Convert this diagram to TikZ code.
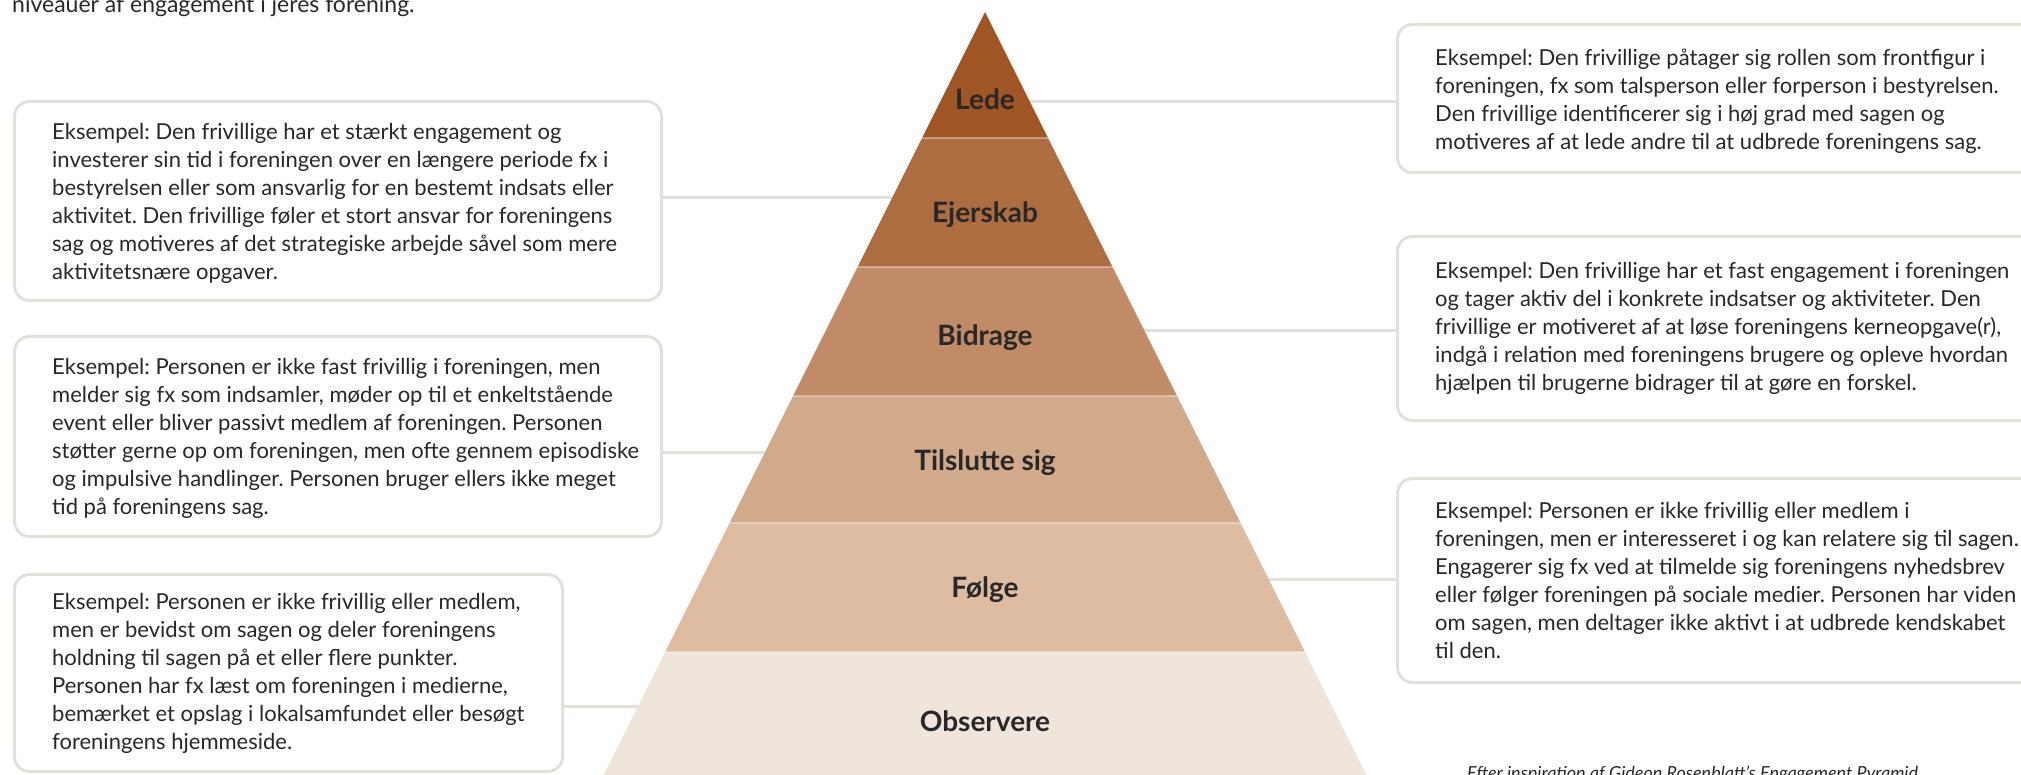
\documentclass[tikz,border=0pt]{standalone}
\usepackage{fontspec}
\setmainfont{Lato}
\usetikzlibrary{backgrounds}

\definecolor{ledecol}{RGB}{160,85,36}
\definecolor{ejerskabcol}{RGB}{174,109,64}
\definecolor{bidragecol}{RGB}{193,139,103}
\definecolor{tilsluttecol}{RGB}{209,170,140}
\definecolor{folgecol}{RGB}{221,188,162}
\definecolor{observerecol}{RGB}{240,229,219}
\definecolor{framecol}{RGB}{227,224,217}
\definecolor{inkcol}{RGB}{40,40,40}

\begin{document}
\frenchspacing
\begin{tikzpicture}[x=1pt,y=-1pt,
	infobox/.style={draw=framecol, line width=3pt, rounded corners=15pt, fill=white,
		anchor=north west, inner sep=0pt},
	boxtext/.style={anchor=west, inner sep=0pt, align=left, text=inkcol,
		font=\fontsize{22}{28}\selectfont},
	link/.style={draw=framecol, line width=3pt},
	seam/.style={draw=white, draw opacity=0.35, line width=1.5pt},
	level/.style={text=inkcol, font=\bfseries\fontsize{28}{30}\selectfont}]
	\useasboundingbox (0,0) rectangle (2021,775);
	\clip (0,0) rectangle (2021,775);

	% pyramid
	\fill[ledecol] (985,12) -- (1048,138) -- (922,138) -- cycle;
	\fill[ejerskabcol] (922,138) -- (1048,138) -- (1112.5,267) -- (857.5,267) -- cycle;
	\fill[bidragecol] (857.5,267) -- (1112.5,267) -- (1177,396) -- (793,396) -- cycle;
	\fill[tilsluttecol] (793,396) -- (1177,396) -- (1240.5,523) -- (729.5,523) -- cycle;
	\fill[folgecol] (729.5,523) -- (1240.5,523) -- (1305,652) -- (665,652) -- cycle;
	\fill[observerecol] (665,652) -- (1305,652) -- (1374,790) -- (596,790) -- cycle;
	\draw[seam] (922,138) -- (1048,138);
	\draw[seam] (857.5,267) -- (1112.5,267);
	\draw[seam] (793,396) -- (1177,396);
	\draw[seam] (729.5,523) -- (1240.5,523);
	\draw[seam] (665,652) -- (1305,652);

	\node[level] (lede) at (985,99) {Lede};
	\node[level] (ejerskab) at (985,215) {Ejerskab};
	\node[level] (bidrage) at (985,338) {Bidrage};
	\node[level] (tilslutte) at (985,463) {Tilslutte sig};
	\node[level] (folge) at (985,590) {Følge};
	\node[level] (observere) at (985,721) {Observere};

	% example boxes, left
	\node[infobox, minimum width=647pt, minimum height=199pt] (ejerskabbox) at (13,100) {};
	\node[boxtext] (ejerskabtext) at ([xshift=39pt,yshift=-2pt]ejerskabbox.west)
		{Eksempel: Den frivillige har et stærkt engagement og\\
		investerer sin tid i foreningen over en længere periode fx i\\
		bestyrelsen eller som ansvarlig for en bestemt indsats eller\\
		aktivitet. Den frivillige føler et stort ansvar for foreningens\\
		sag og motiveres af det strategiske arbejde såvel som mere\\
		aktivitetsnære opgaver.};
	\node[infobox, minimum width=647pt, minimum height=200pt] (tilsluttebox) at (13,335) {};
	\node[boxtext] (tilsluttetext) at ([xshift=39pt,yshift=-2pt]tilsluttebox.west)
		{Eksempel: Personen er ikke fast frivillig i foreningen, men\\
		melder sig fx som indsamler, møder op til et enkeltstående\\
		event eller bliver passivt medlem af foreningen. Personen\\
		støtter gerne op om foreningen, men ofte gennem episodiske\\
		og impulsive handlinger. Personen bruger ellers ikke meget\\
		tid på foreningens sag.};
	\node[infobox, minimum width=548pt, minimum height=197pt] (observerebox) at (13,573) {};
	\node[boxtext] (observeretext) at ([xshift=39pt]observerebox.west)
		{Eksempel: Personen er ikke frivillig eller medlem,\\
		men er bevidst om sagen og deler foreningens\\
		holdning til sagen på et eller flere punkter.\\
		Personen har fx læst om foreningen i medierne,\\
		bemærket et opslag i lokalsamfundet eller besøgt\\
		foreningens hjemmeside.};

	% example boxes, right
	\node[infobox, minimum width=660pt, minimum height=148pt] (ledebox) at (1396,23) {};
	\node[boxtext] (ledetext) at ([xshift=39pt,yshift=-3pt]ledebox.west)
		{Eksempel: Den frivillige påtager sig rollen som frontfigur i\\
		foreningen, fx som talsperson eller forperson i bestyrelsen.\\
		Den frivillige identificerer sig i høj grad med sagen og\\
		motiveres af at lede andre til at udbrede foreningens sag.};
	\node[infobox, minimum width=660pt, minimum height=184pt] (bidragebox) at (1396,235) {};
	\node[boxtext] (bidragetext) at ([xshift=39pt]bidragebox.west)
		{Eksempel: Den frivillige har et fast engagement i foreningen\\
		og tager aktiv del i konkrete indsatser og aktiviteter. Den\\
		frivillige er motiveret af at løse foreningens kerneopgave(r),\\
		indgå i relation med foreningens brugere og opleve hvordan\\
		hjælpen til brugerne bidrager til at gøre en forskel.};
	\node[infobox, minimum width=660pt, minimum height=204pt] (folgebox) at (1396,477) {};
	\node[boxtext] (folgetext) at ([xshift=39pt]folgebox.west)
		{Eksempel: Personen er ikke frivillig eller medlem i\\
		foreningen, men er interesseret i og kan relatere sig til sagen.\\
		Engagerer sig fx ved at tilmelde sig foreningens nyhedsbrev\\
		eller følger foreningen på sociale medier. Personen har viden\\
		om sagen, men deltager ikke aktivt i at udbrede kendskabet\\
		til den.};

	% connectors behind the pyramid
	\coordinate (ledeend) at (985,102);
	\coordinate (ejerskabend) at (985,198);
	\coordinate (bidrageend) at (985,331);
	\coordinate (tilslutteend) at (985,452);
	\coordinate (folgeend) at (985,579);
	\coordinate (observereend) at (985,706);
	\begin{scope}[on background layer]
		\draw[link] (ledeend) -- (ledeend -| ledebox.west);
		\draw[link] (ejerskabend) -- (ejerskabend -| ejerskabbox.east);
		\draw[link] (bidrageend) -- (bidrageend -| bidragebox.west);
		\draw[link] (tilslutteend) -- (tilslutteend -| tilsluttebox.east);
		\draw[link] (folgeend) -- (folgeend -| folgebox.west);
		\draw[link] (observereend) -- (observereend -| observerebox.east);
	\end{scope}

	% cut-off texts at the edges
	\node[anchor=base west, inner sep=0pt, text=inkcol, font=\fontsize{23}{26}\selectfont] (intro) at (12,13)
		{niveauer af engagement i jeres forening.};
	\node[anchor=base west, inner sep=0pt, text=inkcol, font=\itshape\fontsize{18}{20}\selectfont] (source) at (1467,779)
		{Efter inspiration af Gideon Rosenblatt’s Engagement Pyramid};
\end{tikzpicture}
\end{document}
